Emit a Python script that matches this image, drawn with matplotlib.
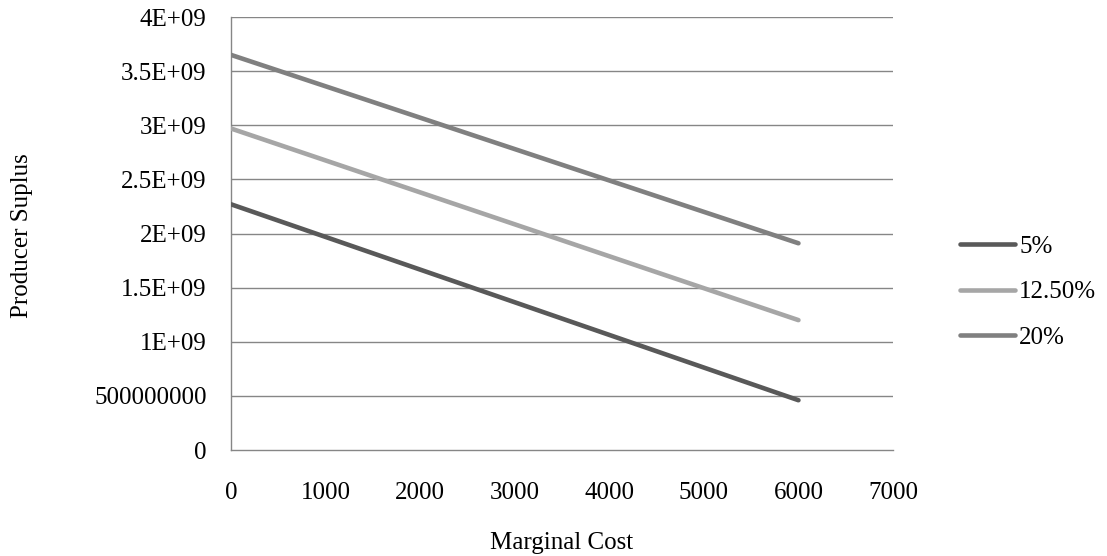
import numpy as np
import matplotlib.pyplot as plt

# ===== data =====
marginal_cost = [0, 6000]
series_names = ["5%", "12.50%", "20%"]
surplus_5 = [2.27e9, 0.46e9]
surplus_125 = [2.97e9, 1.20e9]
surplus_20 = [3.65e9, 1.91e9]
series_colors = ["#595959", "#a6a6a6", "#808080"]

y_ticks = [0, 0.5e9, 1e9, 1.5e9, 2e9, 2.5e9, 3e9, 3.5e9, 4e9]
y_tick_labels = ["0", "500000000", "1E+09", "1.5E+09", "2E+09", "2.5E+09",
                 "3E+09", "3.5E+09", "4E+09"]
x_ticks = [0, 1000, 2000, 3000, 4000, 5000, 6000, 7000]

plt.rcParams['font.family'] = ['Liberation Serif', 'DejaVu Serif']
fs = 18

fig = plt.figure(figsize=(11.07, 5.56), dpi=100)
ax = fig.add_axes([0.2087, 0.1906, 0.598, 0.7788])

grid_c = "#868686"
for y in y_ticks[1:]:
    ax.axhline(y, color=grid_c, lw=1.0, zorder=1)

for vals, name, c in zip([surplus_5, surplus_125, surplus_20], series_names, series_colors):
    ax.plot(marginal_cost, vals, color=c, lw=3.3, solid_capstyle='round', label=name, zorder=3)

ax.set_xlim(0, 7000)
ax.set_ylim(0, 4e9)
ax.set_xticks(x_ticks)
ax.set_xticklabels([str(v) for v in x_ticks])
ax.set_yticks(y_ticks)
ax.set_yticklabels(y_tick_labels)
ax.tick_params(axis='both', length=0, labelsize=fs)
ax.tick_params(axis='x', pad=23)
ax.tick_params(axis='y', pad=17.5)

for s in ['top', 'right']:
    ax.spines[s].set_visible(False)
for s in ['left', 'bottom']:
    ax.spines[s].set_color(grid_c)
    ax.spines[s].set_linewidth(1.0)

# axis titles
fig.text(562 / 1107, 7 / 556, "Marginal Cost", fontsize=fs, ha='center', va='baseline')
fig.text(22 / 1107, (556 - 236) / 556, "Producer Suplus", fontsize=fs,
         rotation=90, ha='center', va='center')

leg = fig.legend(loc='center left', bbox_to_anchor=(960 / 1107, (556 - 292) / 556),
                 frameon=False, fontsize=fs, handlelength=2.2, handletextpad=0.16,
                 labelspacing=0.91, borderpad=0, borderaxespad=0)

fig.savefig("out.png", dpi=100)
